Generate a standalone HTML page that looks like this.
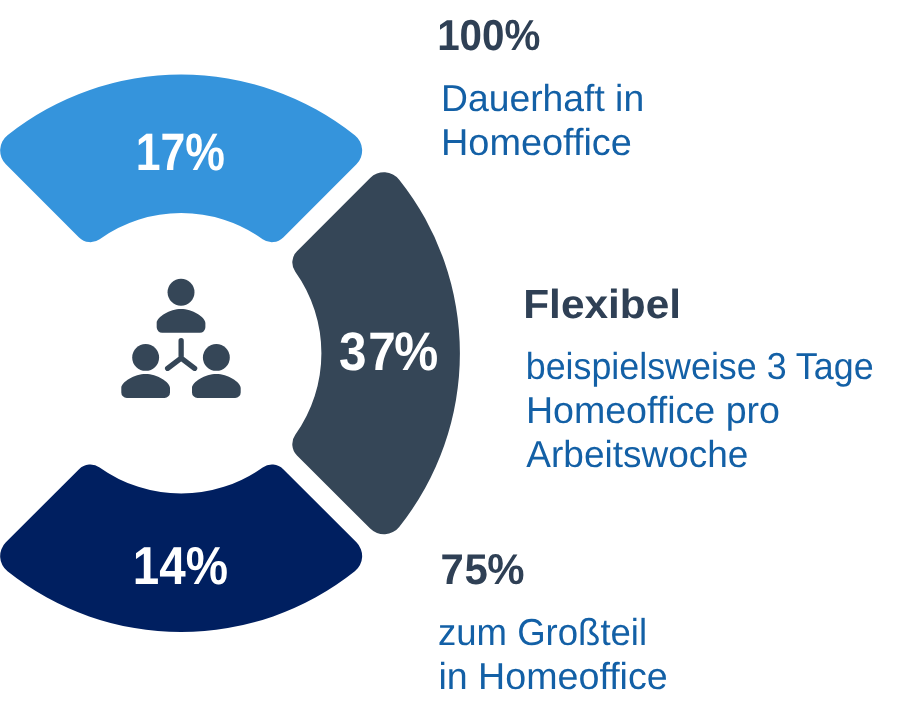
<!DOCTYPE html>
<html lang="de">
<head>
<meta charset="utf-8">
<title>Homeoffice Umfrage</title>
<style>
html,body{margin:0;padding:0;background:#fff;}
body{width:902px;height:719px;overflow:hidden;}
svg{display:block;}
text{font-family:"Liberation Sans",Arial,sans-serif;text-rendering:geometricPrecision;}
.pct{font-weight:700;fill:#fff;}
.head{font-weight:700;fill:#2f4055;}
.body{font-weight:400;fill:#1360a6;}
</style>
</head>
<body>
<svg width="902" height="719" viewBox="0 0 902 719">
<path fill="#3594dc" d="M5.86,164.29 A19.5,19.5 0 0 1 7.50,135.25 A278.75,278.75 0 0 1 354.80,135.25 A19.5,19.5 0 0 1 356.44,164.29 L283.27,237.46 A16,16 0 0 1 262.66,239.17 A140.25,140.25 0 0 0 99.64,239.17 A16,16 0 0 1 79.03,237.46 Z"/>
<path fill="#354657" d="M370.16,178.01 A19.5,19.5 0 0 1 399.20,179.65 A278.75,278.75 0 0 1 399.20,526.95 A19.5,19.5 0 0 1 370.16,528.59 L296.99,455.42 A16,16 0 0 1 295.28,434.81 A140.25,140.25 0 0 0 295.28,271.79 A16,16 0 0 1 296.99,251.18 Z"/>
<path fill="#001f60" d="M356.44,542.31 A19.5,19.5 0 0 1 354.80,571.35 A278.75,278.75 0 0 1 7.50,571.35 A19.5,19.5 0 0 1 5.86,542.31 L79.03,469.14 A16,16 0 0 1 99.64,467.43 A140.25,140.25 0 0 0 262.66,467.43 A16,16 0 0 1 283.27,469.14 Z"/>
<g fill="#354657">
<g transform="translate(181.03,292.30)"><circle cx="0" cy="0" r="13.45"/><path transform="translate(0,16.6)" d="M-24.35,18.4 L-24.35,14 C-24.35,8 -11,0 0,0 C11,0 24.35,8 24.35,14 L24.35,18.4 A5.5,5.5 0 0 1 18.85,23.9 L-18.85,23.9 A5.5,5.5 0 0 1 -24.35,18.4 Z"/></g>
<g transform="translate(145.65,357.40)"><circle cx="0" cy="0" r="13.45"/><path transform="translate(0,16.6)" d="M-24.35,18.4 L-24.35,14 C-24.35,8 -11,0 0,0 C11,0 24.35,8 24.35,14 L24.35,18.4 A5.5,5.5 0 0 1 18.85,23.9 L-18.85,23.9 A5.5,5.5 0 0 1 -24.35,18.4 Z"/></g>
<g transform="translate(216.35,357.40)"><circle cx="0" cy="0" r="13.45"/><path transform="translate(0,16.6)" d="M-24.35,18.4 L-24.35,14 C-24.35,8 -11,0 0,0 C11,0 24.35,8 24.35,14 L24.35,18.4 A5.5,5.5 0 0 1 18.85,23.9 L-18.85,23.9 A5.5,5.5 0 0 1 -24.35,18.4 Z"/></g>
</g>
<path fill="none" stroke="#354657" stroke-width="5.3" stroke-linecap="round" stroke-linejoin="round" d="M181.14,340.75 L181.14,358.2 M167.65,368.3 L181.14,358.2 L194.6,368.3"/>
<text class="pct" font-size="52" transform="translate(135.71,169.79) scale(0.8573,1.0122)">17%</text>
<text class="pct" font-size="52" x="356.58 387.35 414.58" transform="translate(0,370.18) scale(0.9507,1.0422)">37%</text>
<text class="pct" font-size="52" transform="translate(132.73,583.79) scale(0.9146,1.0259)">14%</text>
<text class="head" font-size="42" transform="translate(437.16,50.18) scale(0.9614,1.0319)">100%</text>
<text class="body" font-size="37.5" transform="translate(441.02,111.00) scale(0.9942,1.0000)">Dauerhaft in</text>
<text class="body" font-size="37.5" transform="translate(440.97,155.00) scale(1.0100,1.0000)">Homeoffice</text>
<text class="head" font-size="42" transform="translate(523.23,317.72) scale(1.0090,0.9677)">Flexibel</text>
<text class="body" font-size="37.5" transform="translate(525.71,378.90) scale(0.9553,1.0000)">beispielsweise 3 Tage</text>
<text class="body" font-size="37.5" transform="translate(525.89,422.90) scale(1.0020,1.0000)">Homeoffice pro</text>
<text class="body" font-size="37.5" transform="translate(526.35,466.90) scale(0.9863,1.0000)">Arbeitswoche</text>
<text class="head" font-size="42" x="441.92 466.07 488.67" transform="translate(0,583.89) scale(0.9969,1.0252)">75%</text>
<text class="body" font-size="37.5" transform="translate(437.94,645.00) scale(0.9746,1.0000)">zum Großteil</text>
<text class="body" font-size="37.5" transform="translate(438.39,689.00) scale(1.0031,1.0000)">in Homeoffice</text>
</svg>
</body>
</html>
